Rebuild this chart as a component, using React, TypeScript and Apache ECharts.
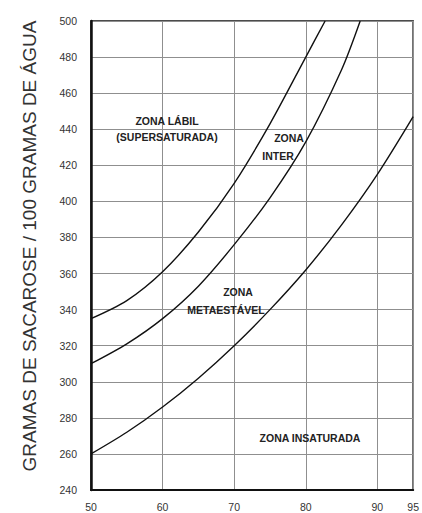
import React, { useEffect, useRef } from "react";
import * as echarts from "echarts";

// Temperature (°C) and grams of sucrose / 100 g water
const tempSaturation = [50, 55, 60, 65, 70, 75, 80, 85, 90, 95];
const saturation = [260, 272, 286, 302, 320, 340, 362, 387, 415, 447];

const tempMetastable = [50, 55, 60, 65, 70, 75, 80, 85, 87.6];
const metastable = [310, 321, 335, 353, 376, 402, 433, 473, 500];

const tempLabile = [50, 55, 60, 65, 70, 75, 80, 82.7];
const labile = [335, 345, 361, 383, 410, 443, 480, 500];

const xTicks = { min: 50, max: 95, interval: 10 };
const yTicks = { min: 240, max: 500, interval: 20 };

const yAxisTitle = "GRAMAS DE SACAROSE / 100 GRAMAS DE ÁGUA";

const zoneLabels = [
  { text: "ZONA LÁBIL", x: 167, y: 121 },
  { text: "(SUPERSATURADA)", x: 167, y: 137 },
  { text: "ZONA", x: 289, y: 138 },
  { text: "INTER", x: 278, y: 156 },
  { text: "ZONA", x: 238, y: 292 },
  { text: "METAESTÁVEL", x: 226, y: 310 },
  { text: "ZONA INSATURADA", x: 310, y: 438 },
];

const pairs = (xs: number[], ys: number[]) => xs.map((x, i) => [x, ys[i]]);

export default function App() {
  const ref = useRef<HTMLDivElement>(null);
  useEffect(() => {
    document.body.style.margin = "0";
    const chart = echarts.init(ref.current!, null, { renderer: "svg" });
    const font = "'Liberation Sans', Arial, sans-serif";
    const lineStyle = { color: "#111", width: 1.4 };
    const gridLine = { show: true, lineStyle: { color: "#8f8f8f", width: 1 } };
    const curve = {
      type: "line",
      smooth: 0.3,
      showSymbol: false,
      lineStyle,
    };
    chart.setOption({
      animation: false,
      backgroundColor: "#fff",
      grid: {
        left: 91,
        right: 1,
        top: 21,
        bottom: 23,
        show: true,
        borderColor: "#111",
        borderWidth: 1.5,
        backgroundColor: "transparent",
      },
      xAxis: {
        type: "value",
        min: xTicks.min,
        max: xTicks.max,
        interval: xTicks.interval,
        axisLine: { show: true, onZero: false, lineStyle: { color: "#111", width: 2 } },
        axisTick: { show: false },
        axisLabel: { color: "#333", fontSize: 10.5, fontFamily: font, margin: 11 },
        splitLine: gridLine,
      },
      yAxis: {
        type: "value",
        min: yTicks.min,
        max: yTicks.max,
        interval: yTicks.interval,
        axisLine: { show: true, onZero: false, lineStyle: { color: "#111", width: 2.5 } },
        axisTick: { show: false },
        axisLabel: { color: "#333", fontSize: 10.5, fontFamily: font, margin: 14 },
        splitLine: gridLine,
      },
      series: [
        { ...curve, name: "saturação", data: pairs(tempSaturation, saturation) },
        { ...curve, name: "metaestável", data: pairs(tempMetastable, metastable) },
        { ...curve, name: "lábil", data: pairs(tempLabile, labile) },
      ],
      graphic: [
        {
          type: "text",
          x: 29,
          y: 246,
          rotation: Math.PI / 2,
          style: {
            text: yAxisTitle,
            fill: "#333",
            font: `19px ${font}`,
            align: "center",
            verticalAlign: "middle",
          },
          z: 100,
        },
        ...zoneLabels.map((z) => ({
          type: "text",
          x: z.x,
          y: z.y,
          style: {
            text: z.text,
            fill: "#222",
            font: `bold 10.5px ${font}`,
            align: "center",
            verticalAlign: "middle",
          },
          z: 100,
        })),
      ],
    });
    return () => chart.dispose();
  }, []);
  return <div ref={ref} style={{ width: 422, height: 513 }} />;
}
